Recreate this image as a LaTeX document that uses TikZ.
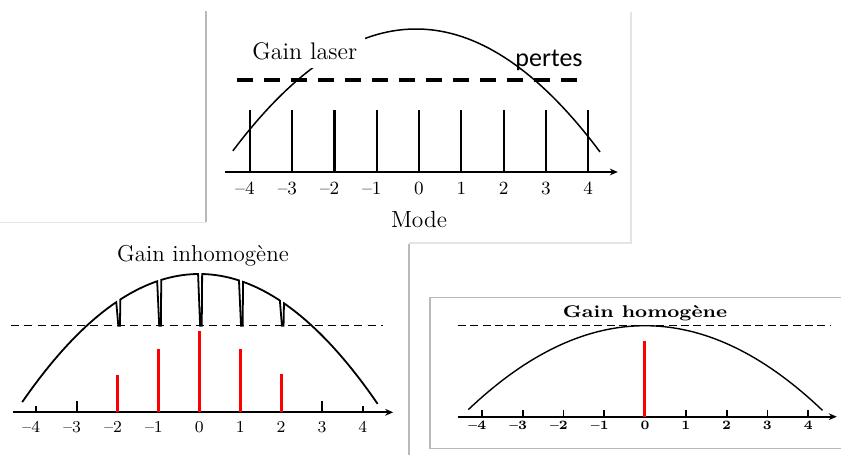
\documentclass[tikz,border=0pt]{standalone}
\usepackage{fontspec}
\usepackage{graphicx}
\usepackage{tikz}
\usetikzlibrary{arrows.meta,positioning}
\newfontfamily\pertesfont{Carlito}
\definecolor{panelframe}{RGB}{185,185,185}
\definecolor{panelfaint}{RGB}{228,228,228}
\definecolor{moderouge}{RGB}{255,0,0}

\begin{document}
\begin{tikzpicture}[x=0.5pt, y=0.5pt,
  modeaxis/.style={-{Stealth[length=4pt,width=3.4pt]}, line width=0.95pt},
  gaincurve/.style={line width=0.75pt},
  modeline/.style={line width=1.1pt},
  redline/.style={moderouge, line width=1.5pt},
  tickmark/.style={line width=0.9pt},
  lossline/.style={dashed, dash pattern=on 4pt off 2.6pt, line width=0.8pt},
  ticklabel/.style={anchor=base, inner sep=0pt},
  declare function={ginh(\x)=138.3-6.833*\x*\x;}]
  \useasboundingbox (0,0) rectangle (841,455);
  \clip (0,0) rectangle (841,455);

  % bords des captures
  \draw[panelframe, line width=0.6pt] (206,444) -- (206,232.5);
  \draw[panelfaint, line width=0.6pt] (0,232.5) -- (206,232.5);
  \draw[panelfaint, line width=0.6pt] (631,443) -- (631,212) -- (409,212);
  \draw[panelframe, line width=0.6pt] (409,211) -- (409,0);
  \draw[panelframe, line width=0.6pt] (850,157.7) -- (430,157.7) -- (430,6.7) -- (850,6.7);

  % haut : modes et pertes
  \begin{scope}[shift={(419,283)}, x=21.15pt]
    \draw[modeaxis] (-4.59,0) -- (4.70,0);
    \foreach \m in {-4,...,4}
      \draw[modeline] (\m,0) -- (\m,62);
    \draw[dashed, dash pattern=on 8pt off 5.5pt, line width=1.8pt] (-4.30,92) -- (3.81,92);
    \draw[gaincurve] plot[domain=-4.40:4.28, samples=70] (\x,{143-6.5*(\x+0.07)*(\x+0.07)});
    \foreach \m in {1,...,4} {
      \node[ticklabel, font={\fontsize{9.3}{11}\selectfont}] (tlp\m) at (\m,-23) {\m};
      \node[ticklabel, font={\fontsize{9.3}{11}\selectfont}] (tlm\m) at (-\m,-23) {\llap{\textendash}\m};
    }
    \node[ticklabel, font={\fontsize{9.3}{11}\selectfont}] (tl0) at (0,-23) {0};
    \node[anchor=base, fill=white, inner sep=4pt, font={\fontsize{12}{14}\selectfont}] (gainlaser) at (-2.70,112) {Gain laser};
    \node[anchor=base west, inner sep=0pt, font={\fontsize{13}{15}\pertesfont}] (pertes) at (2.27,105) {pertes};
    \node[anchor=base, inner sep=0pt, font={\fontsize{11.7}{14}\selectfont}] (mode) at (0,-55.7) {Mode};
  \end{scope}

  % bas gauche : gain inhomogene
  \begin{scope}[shift={(199.3,42.7)}, x=20.45pt]
    \draw[modeaxis] (-4.56,0) -- (4.74,0);
    \foreach \m/\h in {-4/6.5,-3/11,3/11,4/6.5}
      \draw[tickmark] (\m,0) -- (\m,\h);
    \foreach \m/\h in {-2/37,-1/63,0/81,1/63,2/38}
      \draw[redline] (\m,0) -- (\m,\h);
    \draw[lossline] (-4.60,86.6) -- (4.49,86.6);
    \draw[gaincurve, line width=0.9pt]
      plot[domain=-4.33:-2.03, samples=30] (\x,{ginh(\x)})
      -- (-1.98,86.6) -- (-1.94,86.6) -- (-1.93,{ginh(-1.93)})
      -- plot[domain=-1.93:-1.03, samples=15] (\x,{ginh(\x)})
      -- (-0.98,86.6) -- (-0.94,86.6) -- (-0.93,{ginh(-0.93)})
      -- plot[domain=-0.93:-0.03, samples=15] (\x,{ginh(\x)})
      -- (0.02,86.6) -- (0.06,86.6) -- (0.07,{ginh(0.07)})
      -- plot[domain=0.07:0.97, samples=15] (\x,{ginh(\x)})
      -- (1.02,86.6) -- (1.06,86.6) -- (1.07,{ginh(1.07)})
      -- plot[domain=1.07:1.97, samples=15] (\x,{ginh(\x)})
      -- (2.02,86.6) -- (2.06,86.6) -- (2.07,{ginh(2.07)})
      -- plot[domain=2.07:4.36, samples=30] (\x,{ginh(\x)});
    \foreach \m in {1,...,4} {
      \node[ticklabel, font={\fontsize{8.3}{10}\selectfont}] (ilp\m) at (\m,-20) {\m};
      \node[ticklabel, font={\fontsize{8.3}{10}\selectfont}] (ilm\m) at (-\m,-20) {\llap{\textendash}\m};
    }
    \node[ticklabel, font={\fontsize{8.3}{10}\selectfont}] (il0) at (0,-20) {0};
    \node[anchor=base, inner sep=0pt, font={\fontsize{11.5}{14}\selectfont}] (inhomo) at (0.09,150.6) {Gain inhomogène};
  \end{scope}

  % bas droite : gain homogene
  \begin{scope}[shift={(645,38.3)}, x=20.4pt]
    \draw[modeaxis] (-4.59,0) -- (4.70,0);
    \foreach \m in {-4,...,4}
      \draw[tickmark] (\m,0) -- (\m,7);
    \draw[redline] (-0.02,0) -- (-0.02,75.7);
    \draw[lossline, dash pattern=on 4pt off 2.2pt, line width=0.7pt] (-4.59,91) -- (4.53,91);
    \draw[gaincurve, line width=0.7pt] plot[domain=-4.33:4.35, samples=70] (\x,{91-4.475*\x*\x});
    \foreach \m in {1,...,4} {
      \node[ticklabel, font={\fontsize{6.4}{8}\bfseries}] (hlp\m) at (\m,-13.3) {\m};
      \node[ticklabel, font={\fontsize{6.4}{8}\bfseries}] (hlm\m) at (-\m,-13.3) {\llap{\textendash}\m};
    }
    \node[ticklabel, font={\fontsize{6.4}{8}\bfseries}] (hl0) at (0,-13.3) {0};
    \node[anchor=base, inner sep=0pt, font={\fontsize{8.5}{10}\bfseries}] (homo) at (0,99.4) {\scalebox{1.2}[1]{Gain homogène}};
  \end{scope}
\end{tikzpicture}
\end{document}
